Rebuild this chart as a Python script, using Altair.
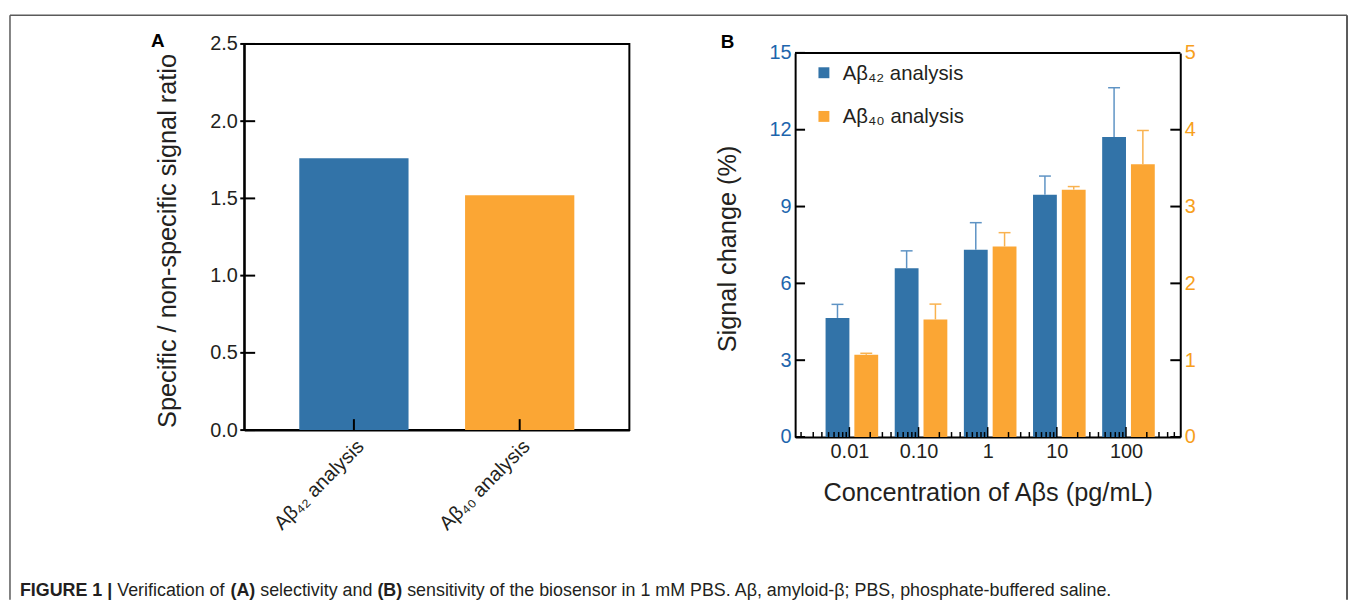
import altair as alt
import pandas as pd

# ---------------- data ----------------
# Panel A
a_categories = ["Aβ₄₂ analysis", "Aβ₄₀ analysis"]
a_values = [1.76, 1.52]
a_ticks = [0.0, 0.5, 1.0, 1.5, 2.0, 2.5]

# Panel B
concentrations = [0.01, 0.1, 1, 10, 100]
conc_labels = ["0.01", "0.10", "1", "10", "100"]
ab42_mean = [4.65, 6.59, 7.31, 9.46, 11.72]
ab42_err_top = [5.18, 7.27, 8.37, 10.19, 13.64]
ab40_mean = [1.07, 1.53, 2.48, 3.22, 3.55]
ab40_err_top = [1.09, 1.73, 2.66, 3.26, 3.99]
left_ticks = [0, 3, 6, 9, 12, 15]
right_ticks = [0, 1, 2, 3, 4, 5]
series = ["Aβ₄₂ analysis", "Aβ₄₀ analysis"]

LOG_LO, LOG_HI = 10 ** -2.713, 10 ** 2.713
decade_ticks = [10.0 ** d for d in range(-3, 3) if LOG_LO <= 10.0 ** d <= LOG_HI]
minor_ticks = [k * 10.0 ** d for d in range(-3, 3) for k in range(2, 10)
               if LOG_LO <= k * 10.0 ** d <= LOG_HI]

caption_parts = ["FIGURE 1 |", "Verification of", "(A)", "selectivity and", "(B)",
                 "sensitivity of the biosensor in 1 mM PBS. Aβ, amyloid-β; PBS, phosphate-buffered saline."]
caption_bold = [True, False, True, False, True, False]
caption_em = [5.170, 6.058, 1.388, 6.280, 1.388, 39.5]

# ---------------- style ----------------
FONT = "Liberation Sans"
INK = "#231f20"
BLUE = "#3273a8"
ORANGE = "#fba634"
BLUE_TXT = "#1d65ad"
ORANGE_TXT = "#f7a01c"
BLUE_ERR = "#5e93c4"
ORANGE_ERR = "#f9b24f"
FRAME = "#5a5a5a"

one = pd.DataFrame({"_": [0]})

# ================= Panel A =================
WA, HA = 388, 389
dfA = pd.DataFrame({"cat": a_categories, "val": a_values})

def xA(bp=None):
    kw = {}
    if bp is not None:
        kw["bandPosition"] = bp
    return alt.X("cat:N", sort=a_categories, title=None,
                 scale=alt.Scale(paddingInner=0.341, paddingOuter=0.332),
                 axis=alt.Axis(labelAngle=-45, labelAlign="right", labelBaseline="top",
                               labelFontSize=20, labelFont=FONT, labelColor=INK,
                               labelPadding=6, ticks=False, domainColor="black",
                               domainWidth=2),
                 **kw)

def yA(field):
    return alt.Y(f"{field}:Q", title="Specific / non-specific signal ratio",
                 scale=alt.Scale(domain=[0, 2.5], nice=False),
                 axis=alt.Axis(values=a_ticks, format=".1f", ticks=False, grid=False,
                               labelPadding=7, labelFontSize=20, labelFont=FONT,
                               labelColor=INK, domainColor="black", domainWidth=2,
                               titleFontSize=25.5, titleFont=FONT, titleFontWeight="normal",
                               titleColor=INK, titleX=-64, titleY=198,
                               titleBaseline="bottom"))

barsA = alt.Chart(dfA).mark_bar().encode(
    x=xA(), y=yA("val"),
    color=alt.Color("cat:N", scale=alt.Scale(domain=a_categories, range=[BLUE, ORANGE]),
                    legend=None))

ytickA = alt.Chart(pd.DataFrame({"t": a_ticks})).mark_rule(color="black", strokeWidth=2).encode(
    y=yA("t"), x=alt.value(-4), x2=alt.value(11))

xtickA = alt.Chart(dfA).mark_rule(color="black", strokeWidth=2).encode(
    x=xA(0.5), y=alt.value(HA - 11), y2=alt.value(HA))

labelA = alt.Chart(one).mark_text(text="A", fontSize=19, fontWeight="bold", font=FONT,
                                  color="black", align="center", baseline="alphabetic").encode(
    x=alt.value(-87), y=alt.value(3))

frame_layers = [
    alt.Chart(one).mark_rule(color=FRAME, strokeWidth=1.5).encode(
        x=alt.value(-236), y=alt.value(-29), y2=alt.value(560)),
    alt.Chart(one).mark_rule(color=FRAME, strokeWidth=1.5).encode(
        x=alt.value(-236), x2=alt.value(1111), y=alt.value(-29)),
    alt.Chart(one).mark_rule(color=FRAME, strokeWidth=2).encode(
        x=alt.value(1111), y=alt.value(-29), y2=alt.value(560)),
]

CAP_SIZE = 18
cap_layers = []
pos = -226.0
for txt, bold, em in zip(caption_parts, caption_bold, caption_em):
    cap_layers.append(
        alt.Chart(one).mark_text(text=txt, fontSize=CAP_SIZE, font=FONT,
                                 fontWeight="bold" if bold else "normal", color=INK,
                                 align="left", baseline="alphabetic").encode(
            x=alt.value(pos), y=alt.value(556)))
    pos += (em + 0.278) * CAP_SIZE

panelA = alt.layer(barsA, ytickA, xtickA, labelA, *frame_layers, *cap_layers).properties(
    width=WA, height=HA, view=alt.ViewBackground(stroke="black", strokeWidth=2))

# ================= Panel B =================
WB, HB, TOPB = 388, 396, 9
dfB42 = pd.DataFrame({"conc": concentrations, "val": ab42_mean, "top": ab42_err_top})
dfB40 = pd.DataFrame({"conc": concentrations, "val": ab40_mean, "top": ab40_err_top})

label_expr = ("[" + ",".join(f"'{l}'" for l in conc_labels) + "][indexof(["
              + ",".join(str(c) for c in concentrations) + "], datum.value)]")

def xB(field):
    return alt.X(f"{field}:Q", title="Concentration of Aβs (pg/mL)",
                 scale=alt.Scale(type="log", domain=[LOG_LO, LOG_HI], nice=False),
                 axis=alt.Axis(values=concentrations, labelExpr=label_expr, ticks=False,
                               grid=False, labelFontSize=20, labelFont=FONT, labelColor=INK,
                               labelPadding=5, labelFlush=False, labelOverlap=False,
                               domainColor="black", domainWidth=2,
                               titleFontSize=25.5, titleFont=FONT, titleFontWeight="normal",
                               titleColor=INK, titlePadding=19))

def yL(field):
    return alt.Y(f"{field}:Q", title="Signal change (%)",
                 scale=alt.Scale(domain=[0, 15], range=[HB, TOPB], nice=False),
                 axis=alt.Axis(values=left_ticks, ticks=False, grid=False,
                               labelColor=BLUE_TXT, labelFontSize=20, labelFont=FONT,
                               labelPadding=4, domainColor="black", domainWidth=2,
                               titleFontSize=25.5, titleFont=FONT, titleFontWeight="normal",
                               titleColor=INK, titleX=-55, titleY=206,
                               titleBaseline="bottom"))

def yR(field):
    return alt.Y(f"{field}:Q", title=None,
                 scale=alt.Scale(domain=[0, 5], range=[HB, TOPB], nice=False),
                 axis=alt.Axis(orient="right", values=right_ticks, ticks=False, grid=False,
                               labelColor=ORANGE_TXT, labelFontSize=20, labelFont=FONT,
                               labelPadding=4, domainColor="black", domainWidth=2))

BW = 24
OFF42, OFF40 = -12, 17

bars42 = alt.Chart(dfB42).mark_bar(width=BW, xOffset=OFF42, color=BLUE).encode(
    x=xB("conc"), y=yL("val"))
err42 = alt.Chart(dfB42).mark_rule(color=BLUE_ERR, strokeWidth=1.5, xOffset=OFF42).encode(
    x=xB("conc"), y=yL("val"), y2="top:Q")
cap42 = alt.Chart(dfB42).mark_tick(orient="horizontal", size=12, thickness=1.5, opacity=1,
                                   color=BLUE_ERR, xOffset=OFF42).encode(
    x=xB("conc"), y=yL("top"))
ltick = alt.Chart(pd.DataFrame({"t": left_ticks})).mark_rule(color="black", strokeWidth=2).encode(
    y=yL("t"), x=alt.value(0), x2=alt.value(10))

bars40 = alt.Chart(dfB40).mark_bar(width=BW, xOffset=OFF40, color=ORANGE).encode(
    x=xB("conc"), y=yR("val"))
err40 = alt.Chart(dfB40).mark_rule(color=ORANGE_ERR, strokeWidth=1.5, xOffset=OFF40).encode(
    x=xB("conc"), y=yR("val"), y2="top:Q")
cap40 = alt.Chart(dfB40).mark_tick(orient="horizontal", size=12, thickness=1.5, opacity=1,
                                   color=ORANGE_ERR, xOffset=OFF40).encode(
    x=xB("conc"), y=yR("top"))
rtick = alt.Chart(pd.DataFrame({"t": right_ticks})).mark_rule(color="black", strokeWidth=2).encode(
    y=yR("t"), x=alt.value(WB - 10), x2=alt.value(WB))

left_group = alt.layer(bars42, err42, cap42, ltick)
right_group = alt.layer(bars40, err40, cap40, rtick)

xmajor = alt.Chart(pd.DataFrame({"v": decade_ticks})).mark_rule(color="black", strokeWidth=1.5).encode(
    x=xB("v"), y=alt.value(HB - 10), y2=alt.value(HB))
xminor = alt.Chart(pd.DataFrame({"v": minor_ticks})).mark_rule(color="black", strokeWidth=1.5).encode(
    x=xB("v"), y=alt.value(HB - 5), y2=alt.value(HB))

top_border = alt.Chart(one).mark_rule(color="black", strokeWidth=2).encode(
    x=alt.value(0), x2=alt.value(WB), y=alt.value(TOPB))

legend_layers = []
for i, (name, col) in enumerate(zip(series, [BLUE, ORANGE])):
    legend_layers.append(alt.Chart(one).mark_square(size=121, color=col, opacity=1).encode(
        x=alt.value(29), y=alt.value(29 + 44 * i)))
    legend_layers.append(alt.Chart(one).mark_text(text=name, align="left", baseline="middle",
                                                  fontSize=20.5, font=FONT, color=INK).encode(
        x=alt.value(48), y=alt.value(30 + 44 * i)))

labelB = alt.Chart(one).mark_text(text="B", fontSize=19, fontWeight="bold", font=FONT,
                                  color="black", align="center", baseline="alphabetic").encode(
    x=alt.value(-68), y=alt.value(4))

panelB = alt.layer(left_group, right_group, xmajor, xminor, top_border, labelB,
                   *legend_layers).resolve_scale(y="independent").properties(
    width=WB, height=HB, view=alt.ViewBackground(stroke="transparent"))

chart = alt.hconcat(panelA, panelB, spacing=167, bounds="flush").properties(
    padding={"left": 0, "top": 3, "right": 0, "bottom": 0},
    background="white")

chart.save("out.html", embed_options={"renderer": "svg", "actions": False})
